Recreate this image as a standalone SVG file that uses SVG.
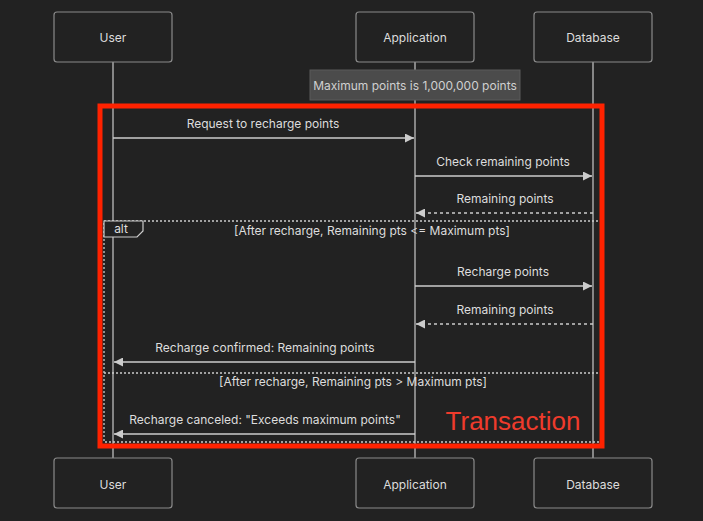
<svg xmlns="http://www.w3.org/2000/svg" width="703" height="521" viewBox="0 0 703 521">
<style>
text{font-family:Inter,"Noto Sans","Liberation Sans",sans-serif;font-size:12px;fill:#dddddd;text-anchor:middle}
.actor rect{fill:#222222;stroke:#8a8a8a;stroke-width:1.2}
.life{stroke:#a8a8a8;stroke-width:1.5}
.msg{stroke:#cccccc;stroke-width:1.3;fill:none}
.dash{stroke-dasharray:3,3}
.frame{stroke:#cccccc;stroke-width:1.3;fill:none;stroke-dasharray:2,2}
</style>
<defs>
<marker id="ah" viewBox="0 0 10 10" refX="10" refY="5" markerWidth="9" markerHeight="9" markerUnits="userSpaceOnUse" orient="auto">
<path d="M0,0 L10,5 L0,10 z" fill="#cccccc"/>
</marker>
</defs>
<rect width="703" height="521" fill="#222222"/>
<g id="lifelines">
<line class="life" x1="113" y1="62" x2="113" y2="458"/>
<line class="life" x1="415" y1="62" x2="415" y2="458"/>
<line class="life" x1="593" y1="62" x2="593" y2="458"/>
</g>
<g id="user-top" class="actor"><rect x="54" y="12" width="118" height="50" rx="3"/><text x="113" y="42">User</text></g>
<g id="app-top" class="actor"><rect x="356" y="12" width="118" height="50" rx="3"/><text x="415" y="42">Application</text></g>
<g id="db-top" class="actor"><rect x="534" y="12" width="118" height="50" rx="3"/><text x="593" y="42">Database</text></g>
<g id="user-bottom" class="actor"><rect x="54" y="458" width="118" height="50" rx="3"/><text x="113" y="489">User</text></g>
<g id="app-bottom" class="actor"><rect x="356" y="458" width="118" height="50" rx="3"/><text x="415" y="489">Application</text></g>
<g id="db-bottom" class="actor"><rect x="534" y="458" width="118" height="50" rx="3"/><text x="593" y="489">Database</text></g>
<g id="note"><rect x="310" y="70" width="210" height="30" fill="#4b4b4b" stroke="#5a5a5a"/><text x="415" y="90" style="fill:#d0d0d0">Maximum points is 1,000,000 points</text></g>
<g id="alt-frame">
<rect class="frame" x="104" y="221" width="497" height="221"/>
<path d="M104,221 H143 V231 L137,237 H104 Z" fill="#222222" stroke="#cccccc" stroke-width="1.2"/>
<text x="121" y="233">alt</text>
<text x="372" y="235">[After recharge, Remaining pts &lt;= Maximum pts]</text>
<line class="frame" x1="104" y1="373" x2="601" y2="373"/>
<text x="353" y="386">[After recharge, Remaining pts &gt; Maximum pts]</text>
</g>
<g id="connectors">
<line class="msg" x1="113" y1="138" x2="414" y2="138" marker-end="url(#ah)"/>
<text x="263" y="128">Request to recharge points</text>
<line class="msg" x1="415" y1="176" x2="592" y2="176" marker-end="url(#ah)"/>
<text x="503" y="166">Check remaining points</text>
<line class="msg dash" x1="593" y1="213" x2="416" y2="213" marker-end="url(#ah)"/>
<text x="505" y="203">Remaining points</text>
<line class="msg" x1="415" y1="286" x2="592" y2="286" marker-end="url(#ah)"/>
<text x="503" y="276">Recharge points</text>
<line class="msg dash" x1="593" y1="324" x2="416" y2="324" marker-end="url(#ah)"/>
<text x="505" y="314">Remaining points</text>
<line class="msg" x1="415" y1="362" x2="114" y2="362" marker-end="url(#ah)"/>
<text x="265" y="352">Recharge confirmed: Remaining points</text>
<line class="msg" x1="415" y1="434" x2="114" y2="434" marker-end="url(#ah)"/>
<text x="265" y="424">Recharge canceled: "Exceeds maximum points"</text>
</g>
<g id="transaction">
<rect x="100" y="106" width="502" height="340" fill="none" stroke="#ff2200" stroke-width="5"/>
<text x="513" y="430" style="font-family:'Liberation Sans',Arial,sans-serif;font-size:26px;fill:#ef3b2c">Transaction</text>
</g>
</svg>
